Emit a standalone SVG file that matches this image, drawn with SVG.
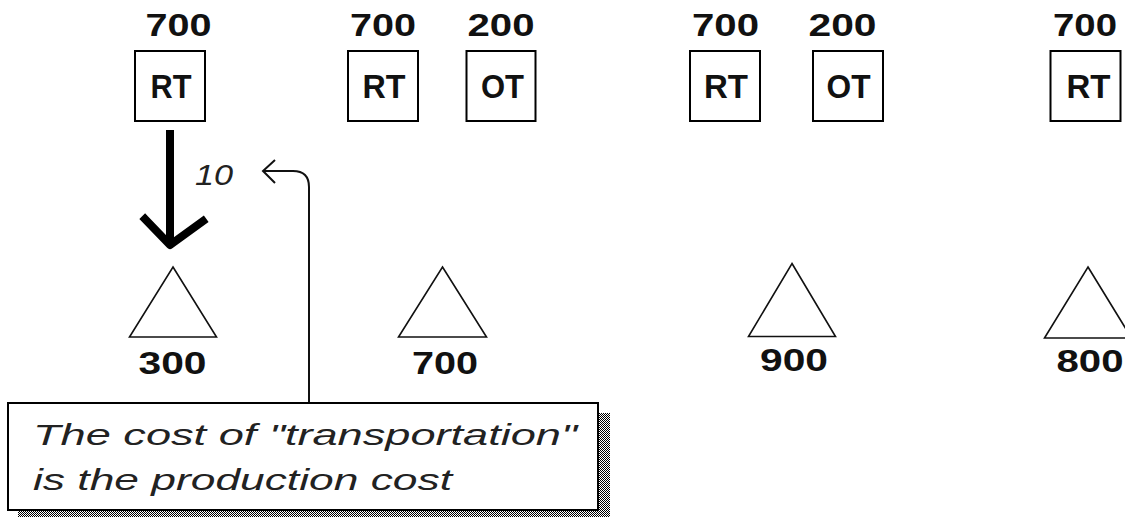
<svg xmlns="http://www.w3.org/2000/svg" width="1125" height="517" viewBox="0 0 1125 517">
<style>
  .box { fill: #fff; stroke: #000; stroke-width: 2; }
  .tri { fill: #fff; stroke: #111; stroke-width: 1.6; stroke-linejoin: miter; }
  .num { font-family: "Liberation Sans", Arial, sans-serif; font-weight: bold; font-size: 32px; fill: #111; text-anchor: middle; }
  .code { font-family: "Liberation Sans", Arial, sans-serif; font-weight: bold; font-size: 34px; fill: #111; text-anchor: middle; }
  .ital { font-family: "Liberation Sans", Arial, sans-serif; font-style: italic; font-size: 30px; fill: #222; }
  .thin { fill: none; stroke: #111; stroke-width: 2; }
  .thick { fill: none; stroke: #000; stroke-width: 8; }
</style>
<defs>
  <pattern id="hatch" width="2" height="2" patternUnits="userSpaceOnUse">
    <rect width="2" height="2" fill="#fff"/>
    <rect width="1" height="1" fill="#000"/>
    <rect x="1" y="1" width="1" height="1" fill="#000"/>
  </pattern>
</defs>
<rect width="1125" height="517" fill="#fff"/>

<g id="node-rt1">
  <text class="num" x="178.5" y="36" textLength="66" lengthAdjust="spacingAndGlyphs">700</text>
  <rect class="box" x="135" y="51" width="70" height="70"/>
  <text class="code" x="171" y="98" textLength="41" lengthAdjust="spacingAndGlyphs">RT</text>
</g>
<g id="node-rt2">
  <text class="num" x="383" y="36" textLength="66" lengthAdjust="spacingAndGlyphs">700</text>
  <rect class="box" x="348" y="51" width="70" height="70"/>
  <text class="code" x="384" y="98" textLength="43" lengthAdjust="spacingAndGlyphs">RT</text>
</g>
<g id="node-ot1">
  <text class="num" x="501" y="36" textLength="67" lengthAdjust="spacingAndGlyphs">200</text>
  <rect class="box" x="466.5" y="51" width="69" height="70"/>
  <text class="code" x="502.5" y="98" textLength="43" lengthAdjust="spacingAndGlyphs">OT</text>
</g>
<g id="node-rt3">
  <text class="num" x="725.5" y="36" textLength="67" lengthAdjust="spacingAndGlyphs">700</text>
  <rect class="box" x="690" y="51" width="70" height="70"/>
  <text class="code" x="726" y="98" textLength="44" lengthAdjust="spacingAndGlyphs">RT</text>
</g>
<g id="node-ot2">
  <text class="num" x="842.5" y="36" textLength="68" lengthAdjust="spacingAndGlyphs">200</text>
  <rect class="box" x="813" y="51" width="70" height="70"/>
  <text class="code" x="848.5" y="98" textLength="44" lengthAdjust="spacingAndGlyphs">OT</text>
</g>
<g id="node-rt4">
  <text class="num" x="1085" y="36" textLength="64" lengthAdjust="spacingAndGlyphs">700</text>
  <rect class="box" x="1050.5" y="51" width="70" height="70"/>
  <text class="code" x="1088.5" y="98" textLength="44" lengthAdjust="spacingAndGlyphs">RT</text>
</g>

<g id="node-tri1">
  <polygon class="tri" points="173,267 216.5,337 129.5,337"/>
  <text class="num" x="172.5" y="374" textLength="68" lengthAdjust="spacingAndGlyphs">300</text>
</g>
<g id="node-tri2">
  <polygon class="tri" points="442.5,267 486.5,337 398.5,337"/>
  <text class="num" x="445" y="374" textLength="66" lengthAdjust="spacingAndGlyphs">700</text>
</g>
<g id="node-tri3">
  <polygon class="tri" points="792,263.5 835.5,336.5 748.5,336.5"/>
  <text class="num" x="794" y="371" textLength="68" lengthAdjust="spacingAndGlyphs">900</text>
</g>
<g id="node-tri4">
  <polygon class="tri" points="1088,267 1131.5,338 1044.5,338"/>
  <text class="num" x="1090" y="372" textLength="67" lengthAdjust="spacingAndGlyphs">800</text>
</g>

<g id="connectors">
  <line class="thick" x1="170" y1="130" x2="170" y2="243"/>
  <polyline class="thick" points="145,219 170,245 203,221" stroke-linejoin="round" stroke-linecap="square"/>
  <text class="ital" x="195" y="185" textLength="38" lengthAdjust="spacingAndGlyphs">10</text>
  <path class="thin" d="M 263,171 H 293 Q 309,171 309,187 V 403"/>
  <polyline class="thin" points="275,160 263,171 275,183"/>
</g>

<g id="node-callout">
  <rect x="18" y="413" width="592" height="110" fill="url(#hatch)"/>
  <rect class="box" x="8" y="403" width="590" height="107"/>
  <text class="ital" x="33" y="445" textLength="544" lengthAdjust="spacingAndGlyphs">The cost of "transportation"</text>
  <text class="ital" x="33" y="490" textLength="419" lengthAdjust="spacingAndGlyphs">is the production cost</text>
</g>
</svg>
